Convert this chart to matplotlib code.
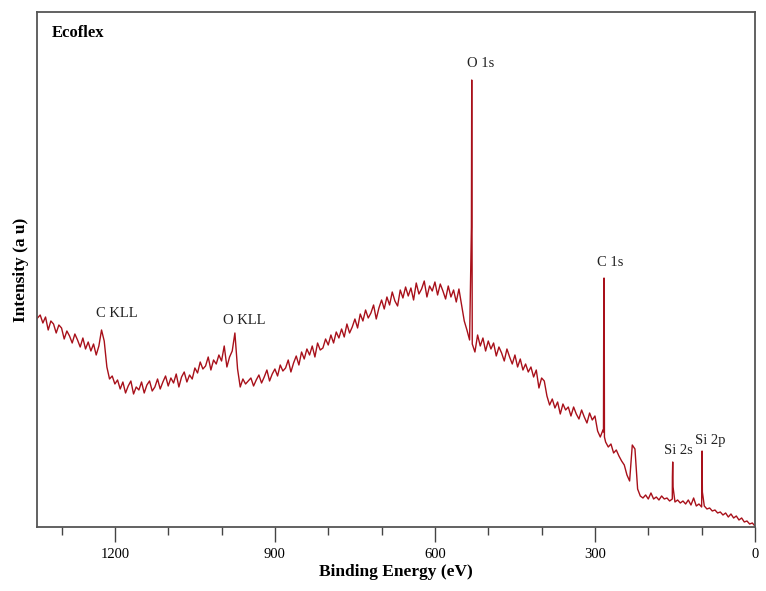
import numpy as np
import matplotlib
matplotlib.use("Agg")
import matplotlib.pyplot as plt

# XPS survey spectrum of Ecoflex, intensity in arbitrary units

# background, every 5 eV from 1345 down to 0
be_grid = np.arange(1345, -1, -5)
counts_grid = [
    209, 212, 204, 210, 197, 206, 203, 194, 202, 199,
    188, 196, 191, 184, 193, 187, 180, 189, 178, 185,
    176, 183, 172, 181, 197, 186, 160, 148, 151, 143,
    147, 138, 145, 134, 141, 146, 133, 140, 137, 145,
    134, 142, 146, 136, 140, 148, 138, 145, 151, 141,
    149, 144, 153, 140, 150, 155, 145, 152, 148, 159,
    154, 165, 158, 161, 170, 157, 167, 163, 172, 166,
    181, 160, 170, 176, 194, 158, 140, 148, 143, 146,
    149, 141, 147, 152, 144, 150, 157, 146, 153, 158,
    151, 162, 156, 159, 167, 155, 164, 171, 162, 175,
    168, 178, 172, 181, 170, 184, 177, 179, 188, 182,
    192, 184, 195, 189, 198, 190, 203, 194, 200, 208,
    199, 213, 206, 217, 209, 214, 222, 208, 219, 227,
    218, 230, 222, 235, 226, 221, 237, 229, 240, 231,
    239, 227, 244, 233, 238, 246, 230, 241, 236, 245,
    232, 243, 236, 228, 241, 230, 237, 225, 238, 222,
    206, 197, 187, 183, 175, 192, 181, 189, 176, 186,
    178, 184, 171, 180, 174, 166, 178, 170, 163, 172,
    160, 168, 157, 163, 155, 160, 150, 157, 139, 149,
    146, 131, 122, 128, 119, 125, 113, 123, 117, 120,
    111, 120, 113, 108, 117, 110, 104, 114, 107, 111,
    96, 90, 97, 85, 80, 83, 74, 77, 71, 66,
    62, 52, 46, 82, 78, 38, 31, 29, 32, 28,
    34, 28, 30, 27, 31, 28, 29, 26, 28, 25,
    27, 24, 26, 23, 27, 22, 29, 21, 23, 20,
    21, 18, 19, 16, 17, 14, 15, 12, 14, 10,
    13, 9, 11, 7, 9, 5, 6, 3, 4, 1,
]

# sharp photoelectron lines
peak_be = [531.6, 531.2, 531.0, 530.8, 530.5,      # O 1s
           284.0, 283.5, 283.0, 282.6, 282.2,      # C 1s
           154.8, 154.2, 153.6,                    # Si 2s
           99.8, 99.2, 98.6]                       # Si 2p
peak_counts = [300, 390, 447, 390, 290,
               95, 222, 249, 222, 90,
               50, 65, 40,
               40, 76, 35]

labels = ["C KLL", "O KLL", "O 1s", "C 1s", "Si 2s", "Si 2p"]
label_be = [1196, 958, 514, 272, 144, 84]
label_counts = [213, 206, 463, 264, 76, 86]

be = np.concatenate([be_grid, peak_be])
counts = np.concatenate([counts_grid, peak_counts])
order = np.argsort(be)
be, counts = be[order], counts[order]

plt.rcParams['font.family'] = ['Liberation Serif', 'DejaVu Serif']

fig = plt.figure(figsize=(7.66, 5.91), dpi=100)
ax = fig.add_axes([0.0483, 0.1083, 0.9373, 0.8714])

ax.plot(be, counts, color='#a8101a', lw=1.0)

for t, xe, yc in zip(labels, label_be, label_counts):
    ax.text(xe, yc, t, ha='center', va='center', fontsize=10.5, color='#222222')

ax.text(0.021, 0.959, "Ecoflex", transform=ax.transAxes, ha='left', va='center',
        fontsize=12, fontweight='bold')

ax.set_xlim(1346, 0)
ax.set_ylim(0, 515)
ax.set_xticks([1200, 900, 600, 300, 0])
ax.set_xticks(np.arange(100, 1346, 100), minor=True)
ax.tick_params(axis='x', which='major', direction='out', length=11, width=1,
               labelsize=10.5, pad=4, color='#444444')
ax.tick_params(axis='x', which='minor', direction='out', length=6, width=1,
               color='#444444')
ax.set_yticks([])

for s in ax.spines.values():
    s.set_color('#555555')
    s.set_linewidth(1.3)

ax.set_xlabel("Binding Energy (eV)", fontsize=12.5, fontweight='bold', labelpad=2)
ax.set_ylabel("Intensity (a u)", fontsize=12.5, fontweight='bold', labelpad=6)

fig.savefig("out.png", dpi=100, facecolor='white')
